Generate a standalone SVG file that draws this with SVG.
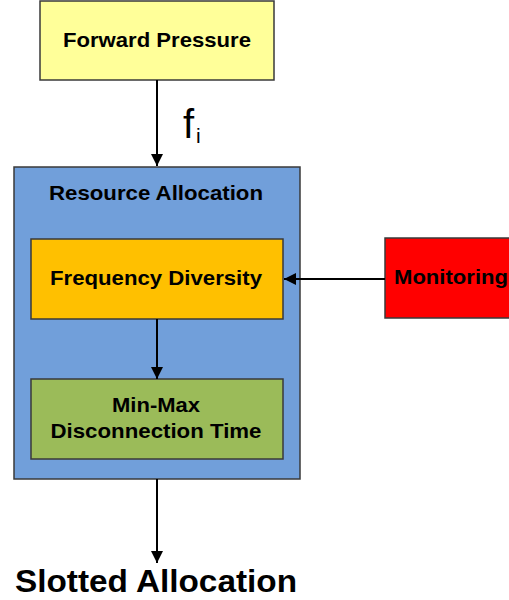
<svg xmlns="http://www.w3.org/2000/svg" width="509" height="600" viewBox="0 0 509 600">
<defs>
<marker id="ah" viewBox="0 0 12 12" refX="12" refY="6" markerWidth="12" markerHeight="12" markerUnits="userSpaceOnUse" orient="auto">
<path d="M0,0 L12,6 L0,12 z" fill="#000"/>
</marker>
</defs>
<style>
.box{stroke:#3a3a3a;stroke-width:1.5}
.t{font-family:"Liberation Sans",Arial,sans-serif;font-weight:bold;font-size:20.5px;fill:#000;text-anchor:middle}
.c{stroke:#000;stroke-width:2;fill:none;marker-end:url(#ah)}
</style>
<rect width="509" height="600" fill="#fff"/>
<g id="forward-pressure">
<rect class="box" x="40" y="1" width="234" height="79" fill="#FFFF99"/>
<text class="t" x="157" y="47" textLength="188" lengthAdjust="spacingAndGlyphs">Forward Pressure</text>
</g>
<g id="resource-allocation">
<rect class="box" x="14" y="167" width="286" height="312" fill="#719FDA"/>
<text class="t" x="156" y="200" textLength="214" lengthAdjust="spacingAndGlyphs">Resource Allocation</text>
</g>
<g id="frequency-diversity">
<rect class="box" x="31" y="239" width="252" height="80" fill="#FFC000"/>
<text class="t" x="156" y="285" textLength="212" lengthAdjust="spacingAndGlyphs">Frequency Diversity</text>
</g>
<g id="min-max">
<rect class="box" x="31" y="379" width="252" height="80" fill="#9BBB59"/>
<text class="t" x="156" y="412" textLength="88" lengthAdjust="spacingAndGlyphs">Min-Max</text>
<text class="t" x="156" y="438" textLength="211" lengthAdjust="spacingAndGlyphs">Disconnection Time</text>
</g>
<g id="monitoring">
<rect class="box" x="385" y="238" width="140" height="80" fill="#FF0000"/>
<text class="t" x="394" y="284" style="text-anchor:start" textLength="114" lengthAdjust="spacingAndGlyphs">Monitoring</text>
</g>
<g id="slotted-allocation">
<text class="t" x="156" y="592" style="font-size:31px" textLength="282" lengthAdjust="spacingAndGlyphs">Slotted Allocation</text>
</g>
<g id="connectors">
<line class="c" x1="157" y1="80" x2="157" y2="166"/>
<line class="c" x1="385" y1="279" x2="284" y2="279"/>
<line class="c" x1="157" y1="319" x2="157" y2="379"/>
<line class="c" x1="157" y1="479" x2="157" y2="563"/>
<text x="183" y="138" style="font-family:'Liberation Sans',Arial,sans-serif;font-size:40px;fill:#000">f</text>
<text x="196" y="143" style="font-family:'Liberation Sans',Arial,sans-serif;font-size:21px;fill:#000">i</text>
</g>
</svg>
